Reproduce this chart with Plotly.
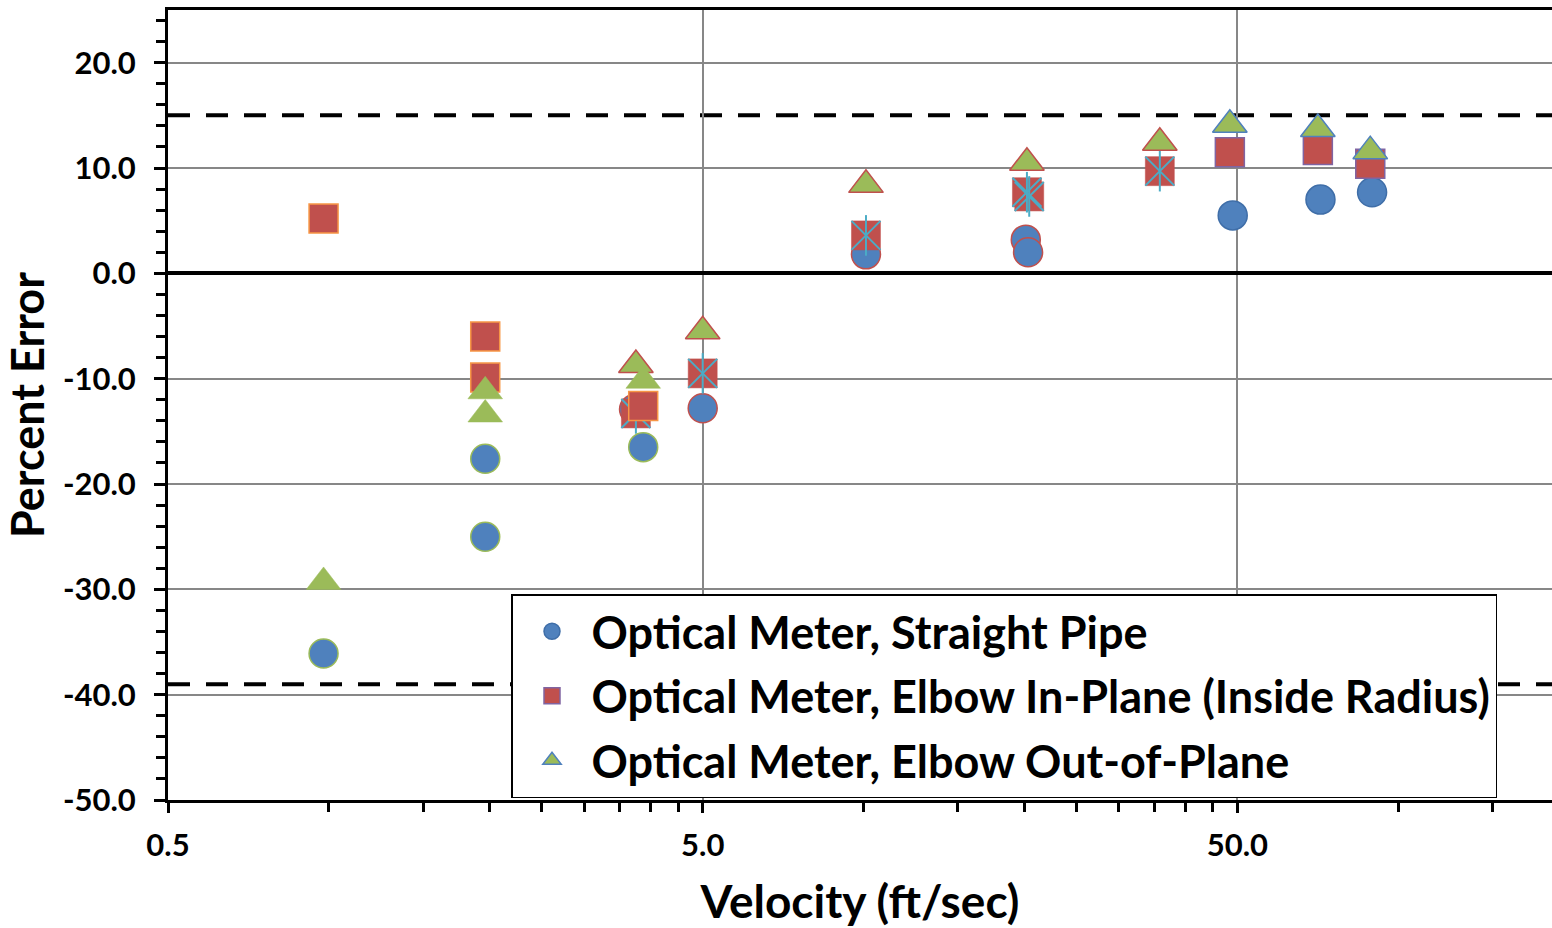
import math
import plotly.graph_objects as go

# ---------------- data ----------------
# Group A: low-velocity tests
a_vel_circ = [0.977, 1.96, 1.96, 3.87]
a_err_circ = [-36.1, -17.6, -25.0, -16.5]
a_vel_sq = [0.977, 1.96, 1.96, 3.87]
a_err_sq = [5.2, -6.0, -9.9, -12.6]
a_vel_tri = [0.977, 1.96, 1.96, 3.87]
a_err_tri = [-29.3, -11.2, -13.4, -10.2]

# Group B: mid-velocity tests
b_vel_circ = [3.72, 5.0, 10.1, 20.1, 20.3]
b_err_circ = [-12.9, -12.8, 1.8, 3.2, 2.0]
b_vel_sq = [3.75, 5.0, 10.1, 20.2, 20.4, 35.8]
b_err_sq = [-13.3, -9.5, 3.6, 7.7, 7.3, 9.7]
b_vel_tri = [3.75, 5.0, 10.1, 20.2, 35.8]
b_err_tri = [-8.7, -5.5, 8.4, 10.5, 12.4]

# Group C: high-velocity tests
c_vel_circ = [49.0, 71.5, 89.3]
c_err_circ = [5.5, 7.0, 7.7]
c_vel_sq = [48.4, 70.7, 88.6]
c_err_sq = [11.5, 11.7, 10.4]
c_vel_tri = [48.4, 70.7, 88.6]
c_err_tri = [14.1, 13.7, 11.6]

upper_limit = 15.0
lower_limit = -39.0

series_names = [
    "Optical Meter, Straight Pipe",
    "Optical Meter, Elbow In-Plane (Inside Radius)",
    "Optical Meter, Elbow Out-of-Plane",
]

x_tick_vals = [0.5, 5.0, 50.0]
x_tick_text = ["0.5", "5.0", "50.0"]
x_minor_vals = [1.0, 1.5, 2.0, 2.5, 3.0, 3.5, 4.0, 4.5,
                10, 15, 20, 25, 30, 35, 40, 45, 100, 150]
y_tick_vals = [-50, -40, -30, -20, -10, 0, 10, 20]
y_tick_text = ["-50.0", "-40.0", "-30.0", "-20.0", "-10.0", "0.0", "10.0", "20.0"]

# ---------------- styles ----------------
BLUE = "#4F81BD"
RED = "#C0504D"
GREEN = "#9BBB59"
ORANGE = "#F79646"
PURPLE = "#8064A2"
AQUA = "#4BACC6"
FONT = "Lato"
MS = 29
TS = 30

fig = go.Figure()


def add(x, y, symbol, fill, line_color, line_width, size, group, name=None, show=False, rank=None):
    fig.add_trace(go.Scatter(
        x=x, y=y, mode="markers",
        name=name if name else group,
        legendgroup=group,
        showlegend=show,
        legendrank=rank if rank else 1000,
        marker=dict(symbol=symbol, size=size, color=fill,
                    line=dict(color=line_color, width=line_width)),
        hoverinfo="x+y",
    ))


# Group B (drawn first)
add(b_vel_circ, b_err_circ, "circle", BLUE, RED, 1.5, MS, "circ")
add(b_vel_sq, b_err_sq, "square", RED, RED, 0.5, MS, "sq")
add(b_vel_sq, b_err_sq, "x-thin-open", AQUA, AQUA, 2, MS, "sq")
add(b_vel_sq, b_err_sq, "line-ns-open", AQUA, AQUA, 2, MS, "sq")
add(b_vel_tri, b_err_tri, "triangle-up", GREEN, RED, 1.5, TS, "tri")

# Group A
add(a_vel_circ, a_err_circ, "circle", BLUE, GREEN, 1.5, MS, "circ")
add(a_vel_sq, a_err_sq, "square", RED, ORANGE, 1.5, MS, "sq")
add(a_vel_tri, a_err_tri, "triangle-up", GREEN, GREEN, 0.5, TS, "tri")

# Group C (legend entries)
add(c_vel_circ, c_err_circ, "circle", BLUE, "#3F6EA8", 1.5, MS, "circ",
    name=series_names[0], show=True, rank=1)
add(c_vel_sq, c_err_sq, "square", RED, PURPLE, 1.5, MS, "sq",
    name=series_names[1], show=True, rank=2)
add(c_vel_tri, c_err_tri, "triangle-up", GREEN, BLUE, 1.5, TS, "tri",
    name=series_names[2], show=True, rank=3)

# limit lines
for yv in (upper_limit, lower_limit):
    fig.add_shape(type="line", xref="paper", x0=0, x1=1, yref="y", y0=yv, y1=yv,
                  line=dict(color="black", width=4, dash="22px,16px"), layer="below")

plot_w = 1552 - 168
decade_px = 534.7
x_lo = math.log10(0.5)
x_hi = x_lo + plot_w / decade_px

fig.update_layout(
    width=1552, height=928, autosize=False,
    margin=dict(l=168, r=0, t=10, b=128, pad=0),
    paper_bgcolor="white", plot_bgcolor="white",
    font=dict(family=FONT, color="black", size=30, weight="bold"),
    showlegend=True,
    legend=dict(
        x=(511 - 168) / plot_w, y=(800 - 594) / 790,
        xanchor="left", yanchor="top",
        bgcolor="white", bordercolor="black", borderwidth=1.5,
        font=dict(family=FONT, size=45, color="black", weight="bold"),
        traceorder="grouped", tracegroupgap=3,
        itemsizing="trace", itemwidth=69,
    ),
    xaxis=dict(
        type="log", range=[x_lo, x_hi],
        tickvals=x_tick_vals, ticktext=x_tick_text,
        ticks="outside", ticklen=10, tickwidth=2.5, tickcolor="black",
        ticklabelstandoff=6,
        tickfont=dict(family=FONT, size=31, color="black", weight="bold"),
        showgrid=True, gridcolor="#878787", gridwidth=1.5,
        showline=True, linecolor="black", linewidth=3, mirror=True,
        zeroline=False,
        minor=dict(tickvals=x_minor_vals, ticks="outside", ticklen=9,
                   tickwidth=2.5, tickcolor="black", showgrid=False),
        title=dict(text="Velocity (ft/sec)", standoff=26,
                   font=dict(family=FONT, size=46, color="black", weight="bold")),
    ),
    yaxis=dict(
        range=[-50, 25],
        tickvals=y_tick_vals, ticktext=y_tick_text,
        ticks="outside", ticklen=11, tickwidth=2.5, tickcolor="black",
        ticklabelstandoff=12,
        tickfont=dict(family=FONT, size=31, color="black", weight="bold"),
        showgrid=True, gridcolor="#878787", gridwidth=1.5,
        showline=True, linecolor="black", linewidth=3,
        zeroline=True, zerolinecolor="black", zerolinewidth=4,
        minor=dict(dtick=2, tick0=0, ticks="outside", ticklen=9,
                   tickwidth=2.5, tickcolor="black", showgrid=False),
        title=dict(text="Percent Error", standoff=14,
                   font=dict(family=FONT, size=45, color="black", weight="bold")),
    ),
)

fig.write_html("out.html")
